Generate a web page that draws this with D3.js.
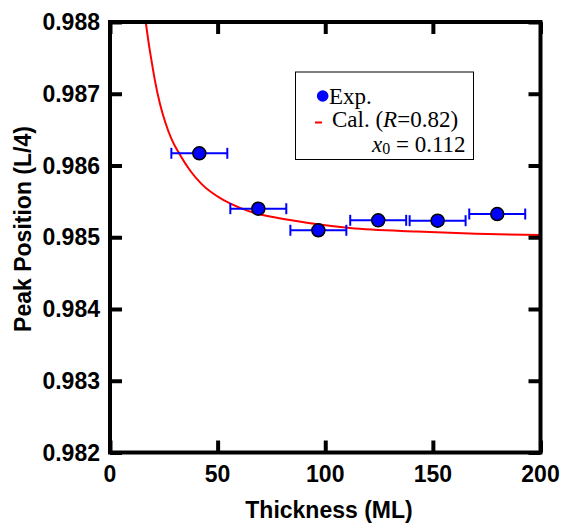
<!DOCTYPE html>
<html>
<head>
<meta charset="utf-8">
<script src="https://cdn.jsdelivr.net/npm/d3@7"></script>
<style>
  body { margin: 0; background: #fff; }
</style>
</head>
<body>
<div id="chart"></div>
<script>
// measured points (thickness in ML, peak position in L/4)
var expThickness = [41.5, 68.9, 96.8, 124.6, 152.2, 179.9];
var expPeak = [0.98617, 0.985398, 0.985097, 0.985236, 0.985231, 0.985324];
var expErr = [13, 13, 13, 13, 13, 13];

// calculated curve
var calThickness = [16.6, 17.8, 19.4, 20.9, 23.2, 25.6, 28.7, 32.5, 37.2, 42.6, 52.6, 60.4, 68.2, 83.6, 99.1, 111.5, 142.5, 170, 200];
var calPeak = [0.98800, 0.98774, 0.98744, 0.98718, 0.98686, 0.98661, 0.98636, 0.98615, 0.98593, 0.98574, 0.98552, 0.98541, 0.98533, 0.98524, 0.98517, 0.98513, 0.98508, 0.98505, 0.98503];

var xTicks = [0, 50, 100, 150, 200];
var yTicks = [0.982, 0.983, 0.984, 0.985, 0.986, 0.987, 0.988];

var width = 562;
var height = 524;
var plotL = 110, plotR = 540.5, plotT = 22, plotB = 452.5;

var svg = d3.select("#chart")
    .append("svg")
    .attr("width", width)
    .attr("height", height);

var x = d3.scaleLinear().domain([0, 200]).range([plotL, plotR]);
var y = d3.scaleLinear().domain([0.982, 0.988]).range([plotB, plotT]);

svg.append("clipPath").attr("id", "plotclip")
    .append("rect")
    .attr("x", plotL).attr("y", plotT)
    .attr("width", plotR - plotL).attr("height", plotB - plotT);

// curve
var line = d3.line()
    .x(function (d, i) { return x(calThickness[i]); })
    .y(function (d) { return y(d); })
    .curve(d3.curveMonotoneX);

svg.append("path")
    .datum(calPeak)
    .attr("clip-path", "url(#plotclip)")
    .attr("d", line)
    .attr("fill", "none")
    .attr("stroke", "#ff0000")
    .attr("stroke-width", 2);

// error bars
var bars = svg.append("g");
expThickness.forEach(function (t, i) {
    var yy = y(expPeak[i]);
    bars.append("line")
        .attr("x1", x(t - expErr[i])).attr("x2", x(t + expErr[i]))
        .attr("y1", yy).attr("y2", yy)
        .attr("stroke", "#0000ff").attr("stroke-width", 2);
    [t - expErr[i], t + expErr[i]].forEach(function (e) {
        bars.append("line")
            .attr("x1", x(e)).attr("x2", x(e))
            .attr("y1", yy - 5.5).attr("y2", yy + 5.5)
            .attr("stroke", "#0000ff").attr("stroke-width", 2);
    });
});

svg.append("g").selectAll("circle")
    .data(expPeak)
    .enter()
    .append("circle")
    .attr("cx", function (d, i) { return x(expThickness[i]); })
    .attr("cy", function (d) { return y(d); })
    .attr("r", 6.5)
    .attr("fill", "#0000ff")
    .attr("stroke", "#000")
    .attr("stroke-width", 1.5);

// axes (ticks inward on all four sides)
var tickFont = "bold 23px 'Liberation Sans', Arial, sans-serif";

var xBottom = svg.append("g")
    .attr("transform", "translate(0," + plotB + ")")
    .call(d3.axisTop(x).tickValues(xTicks).tickSize(12).tickFormat(""));
var xTop = svg.append("g")
    .attr("transform", "translate(0," + plotT + ")")
    .call(d3.axisBottom(x).tickValues(xTicks).tickSize(12).tickFormat(""));
var yLeft = svg.append("g")
    .attr("transform", "translate(" + plotL + ",0)")
    .call(d3.axisRight(y).tickValues(yTicks).tickSize(12).tickFormat(""));
var yRight = svg.append("g")
    .attr("transform", "translate(" + plotR + ",0)")
    .call(d3.axisLeft(y).tickValues(yTicks).tickSize(12).tickFormat(""));

[xBottom, xTop, yLeft, yRight].forEach(function (g) {
    g.select(".domain").remove();
    g.selectAll(".tick line").attr("stroke", "#000").attr("stroke-width", 4);
});

svg.append("rect")
    .attr("x", plotL).attr("y", plotT)
    .attr("width", plotR - plotL).attr("height", plotB - plotT)
    .attr("fill", "none")
    .attr("stroke", "#000")
    .attr("stroke-width", 4);

svg.append("g").selectAll("text")
    .data(xTicks)
    .enter()
    .append("text")
    .attr("x", function (d) { return x(d); })
    .attr("y", 482)
    .attr("text-anchor", "middle")
    .style("font", tickFont)
    .text(function (d) { return d; });

svg.append("g").selectAll("text")
    .data(yTicks)
    .enter()
    .append("text")
    .attr("x", 100)
    .attr("y", function (d) { return y(d) + 8; })
    .attr("text-anchor", "end")
    .style("font", tickFont)
    .text(function (d) { return d3.format(".3f")(d); });

svg.append("text")
    .attr("x", 329)
    .attr("y", 518)
    .attr("text-anchor", "middle")
    .style("font", tickFont)
    .text("Thickness (ML)");

svg.append("text")
    .attr("transform", "translate(31,229) rotate(-90)")
    .attr("text-anchor", "middle")
    .style("font", tickFont)
    .text("Peak Position (L/4)");

// legend
var serif = "23px 'Liberation Serif', 'Times New Roman', serif";
var legend = svg.append("g");
legend.append("rect")
    .attr("x", 295.5).attr("y", 72)
    .attr("width", 178).attr("height", 87.5)
    .attr("fill", "#fff")
    .attr("stroke", "#000")
    .attr("stroke-width", 1);
legend.append("circle")
    .attr("cx", 322.7).attr("cy", 96)
    .attr("r", 5.8)
    .attr("fill", "#0000ff");
legend.append("text")
    .attr("x", 329).attr("y", 103.5)
    .style("font", serif)
    .text("Exp.");
legend.append("line")
    .attr("x1", 315).attr("x2", 322)
    .attr("y1", 122.5).attr("y2", 122.5)
    .attr("stroke", "#ff0000").attr("stroke-width", 2);
var cal = legend.append("text")
    .attr("x", 332).attr("y", 127)
    .style("font", serif);
cal.append("tspan").text("Cal. (");
cal.append("tspan").style("font-style", "italic").text("R");
cal.append("tspan").text("=0.82)");
var x0 = legend.append("text")
    .attr("x", 372).attr("y", 152)
    .style("font", serif);
x0.append("tspan").style("font-style", "italic").text("x");
x0.append("tspan").attr("dy", 2).style("font-size", "16px").text("0");
x0.append("tspan").attr("dy", -2).text(" = 0.112");
</script>
</body>
</html>
